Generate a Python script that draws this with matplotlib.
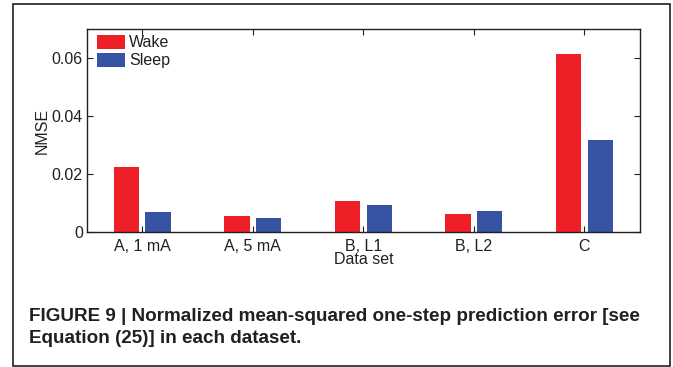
import matplotlib
matplotlib.use("Agg")
import matplotlib.pyplot as plt
from matplotlib.patches import Rectangle
import numpy as np

# ---- data ----
datasets = ["A, 1 mA", "A, 5 mA", "B, L1", "B, L2", "C"]
wake = [0.0224, 0.0057, 0.0108, 0.0064, 0.0613]
sleep = [0.0070, 0.0049, 0.0095, 0.0073, 0.0317]
yticks = [0, 0.02, 0.04, 0.06]
yticklabels = ["0", "0.02", "0.04", "0.06"]
caption = ["FIGURE 9 | Normalized mean-squared one-step prediction error [see",
           "Equation (25)] in each dataset."]

RED, BLUE, INK = "#ee1f26", "#3753a3", "#231f20"
plt.rcParams.update({"font.family": ["Liberation Sans", "DejaVu Sans"],
                     "text.color": INK, "axes.labelcolor": INK,
                     "xtick.color": INK, "ytick.color": INK})

W, H = 673, 367
fig = plt.figure(figsize=(W / 100, H / 100), dpi=100)
ax = fig.add_axes([87 / W, 1 - 232.3 / H, (639.7 - 87) / W, (232.3 - 29) / H])

x = np.arange(1, len(datasets) + 1)
bw, off = 0.229, 0.143
ax.bar(x - off, wake, bw, color=RED, label="Wake")
ax.bar(x + off, sleep, bw, color=BLUE, label="Sleep")

ax.set_xlim(0.5, 5.5)
ax.set_ylim(0, 0.07)
ax.set_xticks(x)
ax.set_xticklabels(datasets, fontsize=11.5)
ax.set_yticks(yticks)
ax.set_yticklabels(yticklabels, fontsize=11.5)
ax.tick_params(direction="in", length=4, width=0.8, top=True, right=True)
ax.tick_params(axis="x", pad=4.5)
ax.tick_params(axis="y", pad=3)
for s in ax.spines.values():
    s.set_linewidth(1.0)
    s.set_color(INK)
ax.set_xlabel("Data set", fontsize=11.5, labelpad=-1)
ax.set_ylabel("NMSE", fontsize=11.5, labelpad=1)

ax.legend(loc="upper left", bbox_to_anchor=(10 / 552.7, 1 - 6 / 203.3), frameon=False,
          fontsize=11.5, borderpad=0, borderaxespad=0, handlelength=1.75,
          handleheight=0.95, handletextpad=0.25, labelspacing=0.15)

# caption
fig.text(29 / W, 1 - 320.7 / H, caption[0], fontsize=13.6, fontweight="bold", va="baseline")
fig.text(29 / W, 1 - 343.2 / H, caption[1], fontsize=13.6, fontweight="bold", va="baseline")

# outer frame
fig.add_artist(Rectangle((13.3 / W, 1 / H), (670 - 13.3) / W, (361.7) / H,
                         transform=fig.transFigure, fill=False, lw=1.2, ec=INK))

fig.savefig("out.png", dpi=100)
